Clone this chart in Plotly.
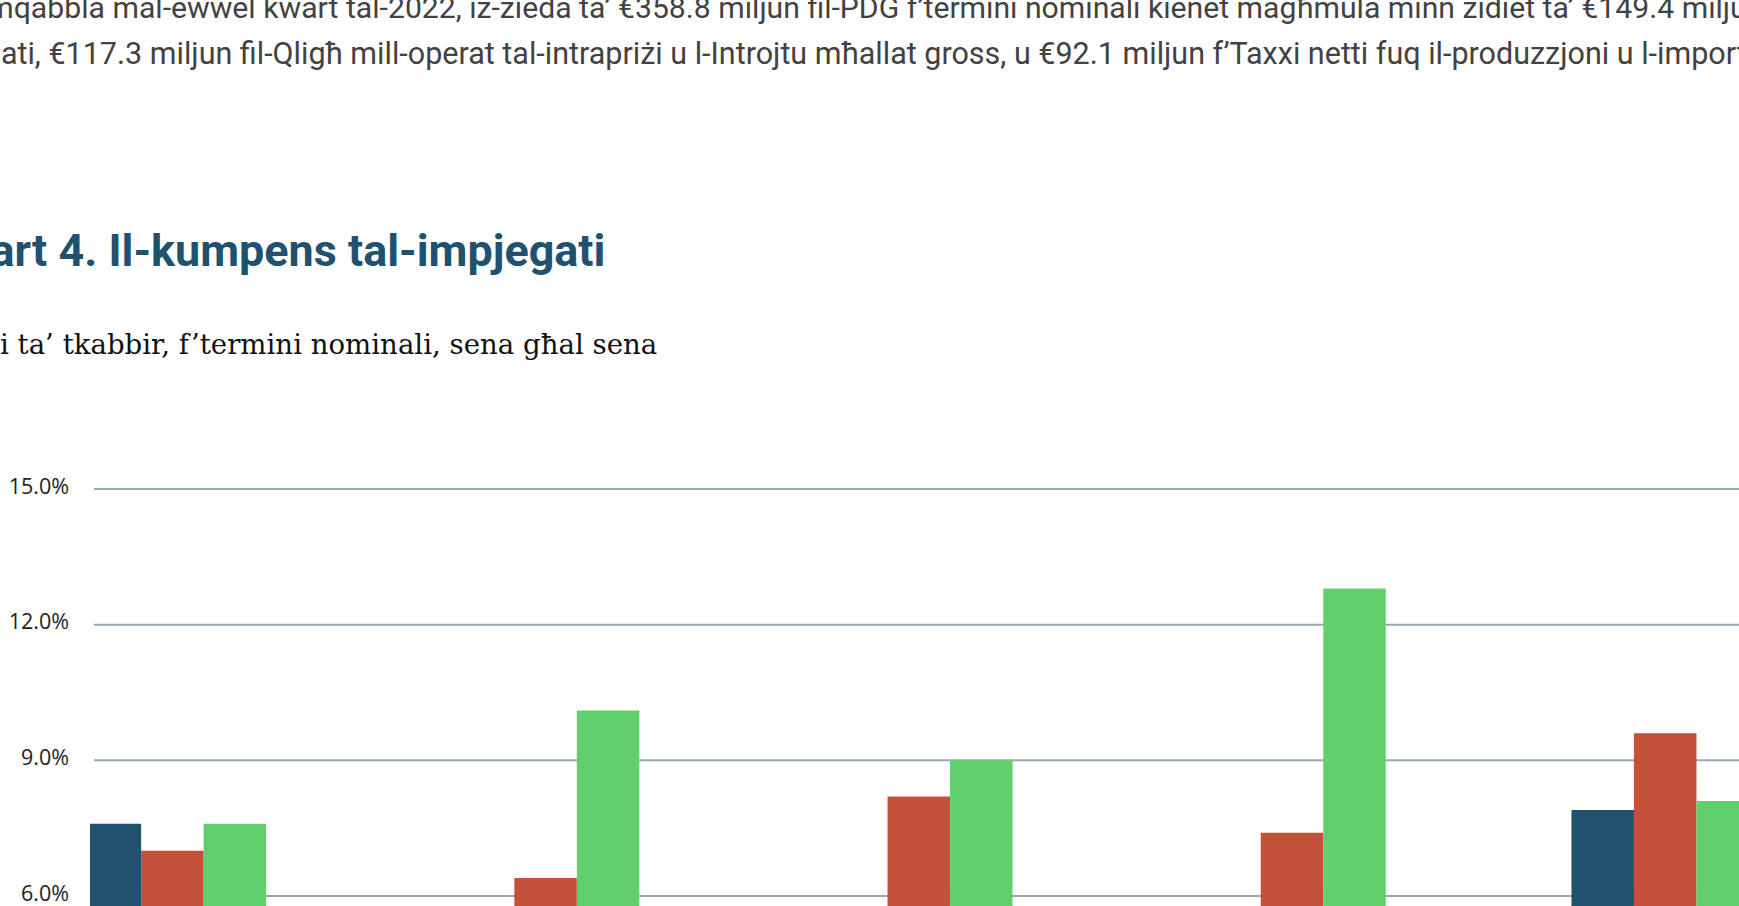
import plotly.graph_objects as go

# ---- data ----
categories = ["2022Q1", "2022Q2", "2022Q3", "2022Q4", "2023Q1"]
series_names = ["Serje 1", "Serje 2", "Serje 3"]
blue_values = [7.6, 5.0, 4.6, 5.4, 7.9]    # middle three lie below the visible 6% line
red_values = [7.0, 6.4, 8.2, 7.4, 9.6]
green_values = [7.6, 10.1, 9.0, 12.8, 8.1]
y_ticks = [6, 9, 12, 15]
y_tick_labels = ["6.0%", "9.0%", "12.0%", "15.0%"]

para_line1 = ("Imqabbla mal-ewwel kwart tal-2022, iż-żieda ta’ €358.8 miljun fil-PDG f’termini nominali "
              "kienet magħmula minn żidiet ta’ €149.4 miljun fil-Kumpens tal-")
para_line2 = ("impjegati, €117.3 miljun fil-Qligħ mill-operat tal-intrapriżi u l-Introjtu mħallat gross, "
              "u €92.1 miljun f’Taxxi netti fuq il-produzzjoni u l-importazzjonijiet.")
title_text = "Kart 4. Il-kumpens tal-impjegati"
subtitle_text = "Rati ta’ tkabbir, f’termini nominali, sena għal sena"

colors = ["#20526e", "#c25139", "#62cf6f"]

# ---- layout geometry (pixels) ----
W, H = 1739, 906
ML, MT = 90, 440
PW, PH = W - ML, H - MT
y15_px, y6_px = 489.0, 896.0
ppu = (y6_px - y15_px) / 9.0
y_lo = 6 - (H - y6_px) / ppu
y_hi = 15 + (y15_px - MT) / ppu
grp0_px, grp_step = 172.4, 373.2
x_lo = -(grp0_px - ML) / grp_step
x_hi = x_lo + PW / grp_step
grid_start_px = 94


def px_x(px):
    return (px - ML) / PW


def px_y(py):
    return 1 - (py - MT) / PH


fig = go.Figure()
for name, vals, col in zip(series_names, [blue_values, red_values, green_values], colors):
    fig.add_trace(go.Bar(x=categories, y=vals, name=name, marker=dict(color=col, line=dict(width=0))))

# horizontal gridlines (drawn under the bars)
for t in y_ticks:
    fig.add_shape(type="line", xref="paper", yref="y", x0=px_x(grid_start_px), x1=1, y0=t, y1=t,
                  line=dict(color="#96a8b2", width=2), layer="below")

annots = [
    dict(text=para_line1, x=px_x(-20.8), y=px_y(7.8), size=30.2, family="Roboto", color="#424242"),
    dict(text=para_line2, x=px_x(-91.5), y=px_y(53.0), size=30.5, family="Roboto", color="#424242"),
    dict(text="<b>" + title_text + "</b>", x=px_x(-37.6), y=px_y(250.0), size=44.9, family="Roboto", color="#1f5170"),
    dict(text=subtitle_text, x=px_x(-49.0), y=px_y(344.3), size=27.6, family="DejaVu Serif", color="#111111"),
]
for a in annots:
    fig.add_annotation(text=a["text"], xref="paper", yref="paper", x=a["x"], y=a["y"],
                       xanchor="left", yanchor="middle", showarrow=False,
                       borderpad=0, borderwidth=0,
                       font=dict(size=a["size"], family=a["family"], color=a["color"]))

fig.update_layout(
    width=W, height=H,
    margin=dict(l=ML, r=0, t=MT, b=0, pad=0),
    paper_bgcolor="white", plot_bgcolor="white",
    barmode="group", bargap=0.4976, bargroupgap=0,
    showlegend=False,
    xaxis=dict(type="category", range=[x_lo, x_hi], showticklabels=False, showgrid=False,
               showline=False, zeroline=False, ticks="", automargin=False, fixedrange=True),
    yaxis=dict(range=[y_lo, y_hi], tickvals=y_ticks, ticktext=y_tick_labels,
               showgrid=False, zeroline=False, showline=False,
               ticks="", automargin=False, ticklabelstandoff=20, ticklabelshift=-3,
               ticklabeloverflow="allow",
               tickfont=dict(family="Open Sans", size=21.5, color="#1e1e1e"), fixedrange=True),
)

fig.write_html("out.html", config={"displayModeBar": False},
               post_script="document.body.style.margin='0px';")
